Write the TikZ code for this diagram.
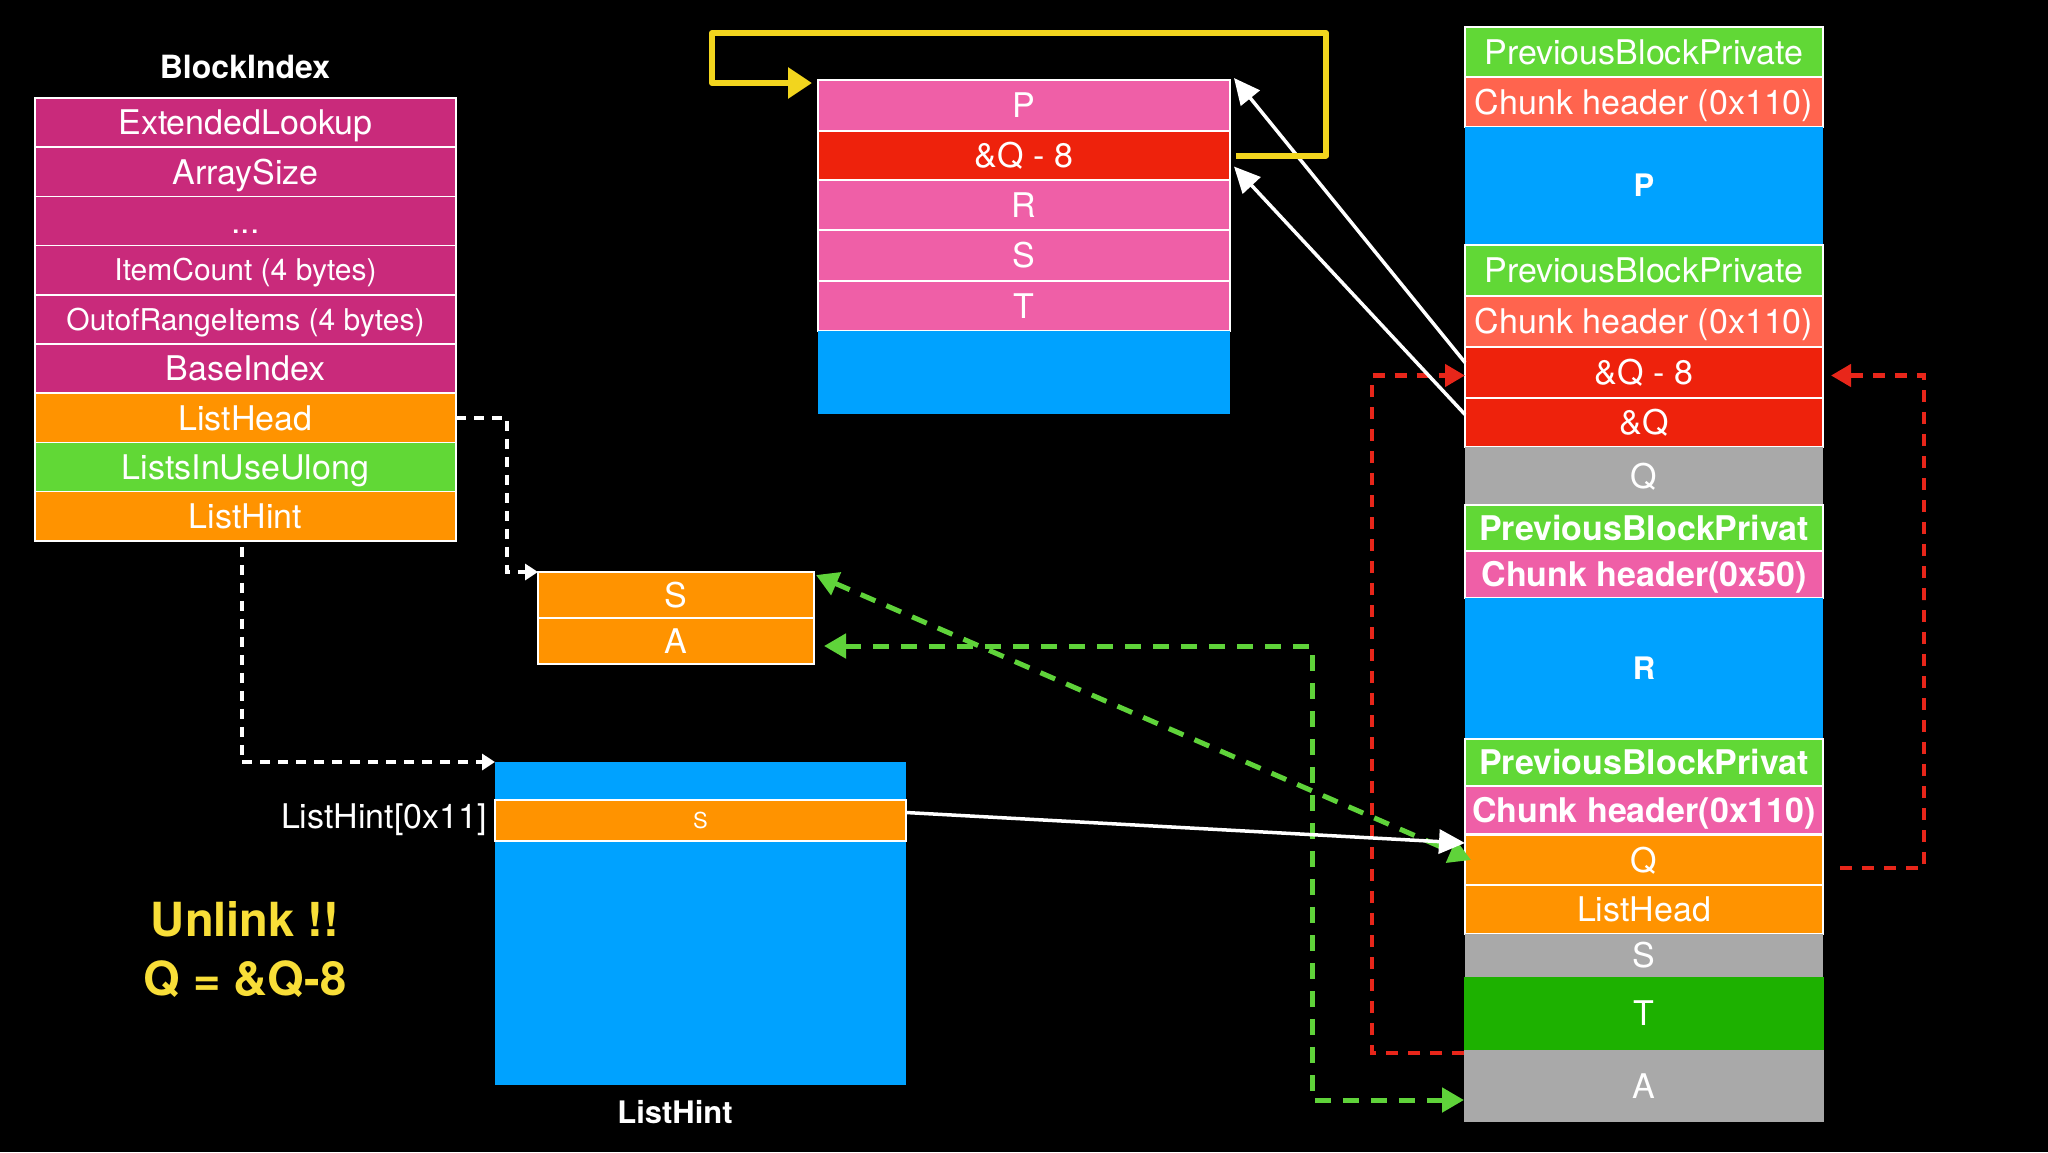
\documentclass[tikz,border=0pt]{standalone}
\usepackage{fontspec}
\setmainfont{TeX Gyre Heros}
\usetikzlibrary{arrows.meta,calc}
\definecolor{cmag}{HTML}{C92A7B}
\definecolor{cpink}{HTML}{EF5FA7}
\definecolor{cred}{HTML}{EE220C}
\definecolor{cblue}{HTML}{00A2FF}
\definecolor{corange}{HTML}{FF9300}
\definecolor{cgreen}{HTML}{61D836}
\definecolor{csalmon}{HTML}{FF644E}
\definecolor{cgray}{HTML}{A9A9A9}
\definecolor{cdkgreen}{HTML}{1DB100}
\definecolor{cyellow}{HTML}{F8DE38}
\definecolor{cyarrow}{HTML}{F2D51E}
\definecolor{cgdash}{HTML}{5FD33A}
\definecolor{crdash}{HTML}{E8261A}
\newcommand\myfs[1]{\fontsize{#1}{#1}\selectfont}
\newcommand\cellbox[7]{\node[cellbase,#6,minimum width=#4pt,minimum height=#5pt] (#1) at (#2,#3) {#7};}
\begin{document}
\begin{tikzpicture}[x=1pt,y=-1pt,
  cellbase/.style={inner sep=0pt,outer sep=0pt,anchor=north west,text=white,font=\myfs{34},text height=24.5pt,text depth=0pt},
  small/.style={font=\myfs{30},text height=21.5pt},
  tiny/.style={font=\myfs{22},text height=16pt},
  bigb/.style={font=\myfs{31}\bfseries,text height=22.5pt},
  bd/.style={draw=white,line width=1.5pt},
  bold/.style={font=\myfs{34}\bfseries},
  lbl/.style={text=white,inner sep=0pt},
  wdot/.style={draw=white,line width=4pt,dash pattern=on 10pt off 8pt},
  gdash/.style={draw=cgdash,line width=5pt,dash pattern=on 16pt off 12pt},
  rdash/.style={draw=crdash,line width=4.5pt,dash pattern=on 12pt off 10pt},
  chalk/.style={draw=white,line width=3.5pt,-{Triangle[length=26pt,width=24pt]}},
  yel/.style={draw=cyarrow,line width=6pt,line join=round,-{Triangle[length=24pt,width=30pt]}},
  wtip/.style={-{Triangle[length=13pt,width=16pt]}},
  gtip/.style={{Triangle[length=22pt,width=24pt]}-{Triangle[length=22pt,width=24pt]}},
  rtip/.style={-{Triangle[length=20pt,width=22pt]}}
]
\fill[black] (0,0) rectangle (2048,1152);
\useasboundingbox (0,0) rectangle (2048,1152);

% BlockIndex
\node[lbl,font=\myfs{32}\bfseries] (bit) at (245,67) {BlockIndex};
\cellbox{bi1}{35}{98}{421}{49.2}{bd,fill=cmag}{ExtendedLookup}
\cellbox{bi2}{35}{147.2}{421}{49.2}{bd,fill=cmag}{ArraySize}
\cellbox{bi3}{35}{196.4}{421}{49.2}{bd,fill=cmag}{...}
\cellbox{bi4}{35}{245.6}{421}{49.2}{bd,fill=cmag,small}{ItemCount (4 bytes)}
\cellbox{bi5}{35}{294.8}{421}{49.2}{bd,fill=cmag,small}{OutofRangeItems (4 bytes)}
\cellbox{bi6}{35}{344}{421}{49.2}{bd,fill=cmag}{BaseIndex}
\cellbox{lh}{35}{393.2}{421}{49.2}{bd,fill=corange}{ListHead}
\cellbox{liu}{35}{442.4}{421}{49.2}{bd,fill=cgreen}{ListsInUseUlong}
\cellbox{lhint}{35}{491.6}{421}{49.2}{bd,fill=corange}{ListHint}

% middle table
\cellbox{mp}{818}{80}{412}{51}{bd,fill=cpink}{P}
\cellbox{mq}{818}{131}{412}{49}{bd,fill=cred}{\&Q - 8}
\cellbox{mr}{818}{180}{412}{50}{bd,fill=cpink}{R}
\cellbox{ms}{818}{230}{412}{51}{bd,fill=cpink}{S}
\cellbox{mt}{818}{281}{412}{50}{bd,fill=cpink}{T}
\cellbox{mb}{818}{331}{412}{83}{fill=cblue}{}

% right column
\cellbox{pb1}{1465}{27}{358}{50}{bd,fill=cgreen}{PreviousBlockPrivate}
\cellbox{ch1}{1465}{77}{358}{50}{bd,fill=csalmon}{Chunk header (0x110)}
\cellbox{pp}{1465}{127}{358}{117}{fill=cblue,bigb}{P}
\cellbox{pb2}{1465}{245}{358}{51}{bd,fill=cgreen}{PreviousBlockPrivate}
\cellbox{ch2}{1465}{296}{358}{51}{bd,fill=csalmon}{Chunk header (0x110)}
\cellbox{qm8}{1465}{347}{358}{51}{bd,fill=cred}{\&Q - 8}
\cellbox{aq}{1465}{398}{358}{49}{bd,fill=cred}{\&Q}
\cellbox{qg}{1465}{447}{358}{58}{fill=cgray}{Q}
\cellbox{pb3}{1465}{505}{358}{46}{bd,fill=cgreen,bold}{PreviousBlockPrivat}
\cellbox{ch3}{1465}{551}{358}{47}{bd,fill=cpink,bold}{Chunk header(0x50)}
\cellbox{rr}{1465}{598}{358}{141}{fill=cblue,bigb}{R}
\cellbox{pb4}{1465}{739}{358}{47}{bd,fill=cgreen,bold}{PreviousBlockPrivat}
\cellbox{ch4}{1465}{786}{358}{48}{bd,fill=cpink,bold}{Chunk header(0x110)}
\cellbox{rq}{1465}{835}{358}{50}{bd,fill=corange}{Q}
\cellbox{rlh}{1465}{885}{358}{49}{bd,fill=corange}{ListHead}
\cellbox{rs}{1465}{934}{358}{43}{fill=cgray}{S}
\cellbox{rt}{1464}{977}{360}{73}{fill=cdkgreen}{T}
\cellbox{ra}{1464}{1050}{360}{72}{fill=cgray}{A}

% S / A box
\cellbox{sas}{538}{572}{276}{46}{bd,fill=corange}{S}
\cellbox{saa}{538}{618}{276}{46}{bd,fill=corange}{A}

% ListHint block
\cellbox{lhb}{495}{762}{411}{323}{fill=cblue}{}
\cellbox{lhs}{495}{800}{411}{41}{bd,fill=corange,tiny}{S}
\node[lbl,anchor=east,font=\myfs{34}] (lhl) at (487,820) {ListHint[0x11]};
\node[lbl,font=\myfs{31}\bfseries] (lhcap) at (675,1112) {ListHint};

% Unlink text
\node[lbl,text=cyellow,font=\myfs{47}\bfseries] (ul1) at (245,919) {Unlink !!};
\node[lbl,text=cyellow,font=\myfs{47}\bfseries] (ul2) at (245,979) {Q = \&Q-8};

% helper coordinates
\coordinate (c1) at (507,572);
\coordinate (c2) at (1312,900);
\coordinate (c3) at (1372,700);
\coordinate (c4) at (1924,600);
\coordinate (c5) at (1326,33);
\coordinate (c6) at (712,83);

% white dotted
\draw[wdot,wtip] (lh.east) -| (c1) -- (sas.north west);
\draw[wdot,wtip] ([xshift=-4pt,yshift=-6pt]lhint.south) |- (lhb.north west);

% red dashed
\draw[rdash,rtip] ([yshift=-3pt]ra.north west) -| (c3) |- ([yshift=-3pt]qm8.west);
\draw[rdash,rtip] ([xshift=17pt,yshift=-8pt]rq.east) -| (c4) |- ([xshift=8pt,yshift=-3pt]qm8.east);

% green dashed
\draw[gdash,gtip] ([xshift=2pt,yshift=-3pt]sas.north east) -- ([xshift=6pt]rq.west);
\draw[gdash,gtip] ([xshift=10pt,yshift=-5pt]saa.east) -| (c2) |- ([yshift=-14pt]ra.west);

% white chalk arrows
\draw[chalk] ([yshift=10pt]qm8.west) -- ([xshift=4pt,yshift=2pt]mp.north east);
\draw[chalk] ([yshift=8pt]aq.west) -- ([xshift=4pt,yshift=-11pt]mq.east);
\draw[chalk] ([yshift=8pt]lhs.east) -- ([yshift=17pt]rq.west);

% yellow loop
\draw[yel] ([xshift=6pt]mq.east) -| (c5) -| (c6) -- ([xshift=-6pt,yshift=22.5pt]mp.west);
\end{tikzpicture}
\end{document}
